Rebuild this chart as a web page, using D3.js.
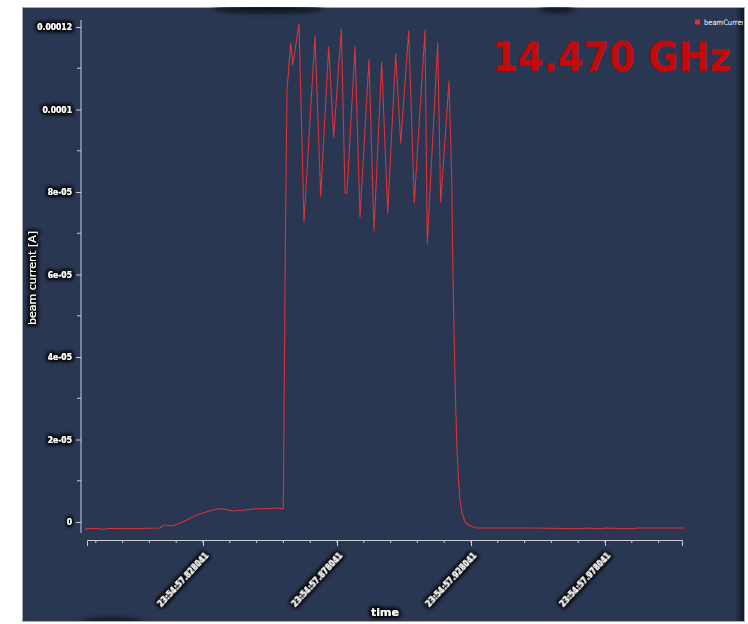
<!DOCTYPE html>
<html>
<head>
<meta charset="utf-8">
<script src="https://cdn.jsdelivr.net/npm/d3@7"></script>
<style>
  html, body { margin: 0; padding: 0; background: #ffffff; }
  svg { display: block; }
</style>
</head>
<body>
<svg id="chart" width="748" height="624"></svg>
<script>
// Beam current trace, time in seconds after 23:54:57
const timeSec = [
  0.78401, 0.78711, 0.79084, 0.79334, 0.79830, 0.80703, 0.81200, 0.81323,
  0.81472, 0.81636, 0.81883, 0.82196, 0.82569, 0.82942, 0.83375, 0.83562,
  0.83935, 0.84308, 0.84744, 0.85181, 0.85614, 0.85778, 0.85800, 0.85882,
  0.85938, 0.86077, 0.86151, 0.86386, 0.86573, 0.86983, 0.87196, 0.87494,
  0.87681, 0.87965, 0.88103, 0.88177, 0.88476, 0.88662, 0.88998, 0.89185,
  0.89472, 0.89696, 0.89994, 0.90181, 0.90479, 0.90688, 0.91088, 0.91173,
  0.91562, 0.91673, 0.91983, 0.92084, 0.92121, 0.92170, 0.92226, 0.92282,
  0.92338, 0.92394, 0.92468, 0.92580, 0.92767, 0.93028, 0.93886, 0.95129,
  0.96871, 0.97121, 0.97617, 0.97867, 0.98737, 0.99110, 1.00789
];
const beamCurrent = [
  -1.70e-6, -1.53e-6, -1.77e-6, -1.53e-6, -1.62e-6, -1.53e-6, -1.45e-6, -0.80e-6,
  -0.80e-6, -0.97e-6, -0.41e-6, 0.48e-6, 1.70e-6, 2.50e-6, 3.22e-6, 3.15e-6,
  2.67e-6, 2.84e-6, 3.22e-6, 3.22e-6, 3.39e-6, 3.22e-6, 3.27e-6, 7.08e-5,
  1.047e-4, 1.161e-4, 1.108e-4, 1.207e-4, 7.28e-5, 1.178e-4, 7.90e-5, 1.152e-4,
  9.34e-5, 1.195e-4, 7.98e-5, 7.98e-5, 1.152e-4, 7.39e-5, 1.122e-4, 7.06e-5,
  1.115e-4, 7.50e-5, 1.135e-4, 9.19e-5, 1.191e-4, 7.74e-5, 1.193e-4, 6.76e-5,
  1.161e-4, 7.74e-5, 1.069e-4, 8.37e-5, 6.43e-5, 4.65e-5, 2.96e-5, 1.75e-5,
  1.02e-5, 5.3e-6, 2.2e-6, 0, -0.97e-6, -1.45e-6, -1.45e-6, -1.45e-6,
  -1.62e-6, -1.45e-6, -1.62e-6, -1.45e-6, -1.62e-6, -1.45e-6, -1.45e-6
];

// Axis extents and ticks
const timeDomain = [0.784758, 1.006770];
const currentDomain = [-2.667e-6, 1.217e-4];
const timeMajorTicks = [0.828041, 0.878041, 0.928041, 0.978041];
const timeTickLabels = ["23:54:57.828041", "23:54:57.878041", "23:54:57.928041", "23:54:57.978041"];
const timeMinorStep = 0.01;
const currentMajorTicks = [0, 2e-5, 4e-5, 6e-5, 8e-5, 1e-4, 1.2e-4];
const currentTickLabels = ["0", "2e-05", "4e-05", "6e-05", "8e-05", "0.0001", "0.00012"];
const currentMinorTicks = [1e-5, 3e-5, 5e-5, 7e-5, 9e-5, 1.1e-4];

const seriesName = "beamCurrent";
const frequencyLabel = "14.470 GHz";

const svg = d3.select("#chart");
const defs = svg.append("defs");

// soft black halo behind light text
const glow = defs.append("filter").attr("id", "glow")
  .attr("x", "-30%").attr("y", "-60%").attr("width", "160%").attr("height", "220%");
glow.append("feMorphology").attr("in", "SourceAlpha").attr("operator", "dilate").attr("radius", 1.4).attr("result", "d");
glow.append("feGaussianBlur").attr("in", "d").attr("stdDeviation", 2.2).attr("result", "b");
glow.append("feFlood").attr("flood-color", "#000").attr("flood-opacity", 1);
glow.append("feComposite").attr("in2", "b").attr("operator", "in").attr("result", "s");
const gm = glow.append("feMerge");
gm.append("feMergeNode").attr("in", "s");
gm.append("feMergeNode").attr("in", "s");
gm.append("feMergeNode").attr("in", "SourceGraphic");

const blur = defs.append("filter").attr("id", "blur")
  .attr("x", "-50%").attr("y", "-300%").attr("width", "200%").attr("height", "700%");
blur.append("feGaussianBlur").attr("stdDeviation", 3);

const edge = defs.append("linearGradient").attr("id", "edge");
edge.append("stop").attr("offset", "0").attr("stop-color", "#0c1220").attr("stop-opacity", 0);
edge.append("stop").attr("offset", "1").attr("stop-color", "#0c1220").attr("stop-opacity", 0.9);

defs.append("clipPath").attr("id", "panelClip")
  .append("rect").attr("x", 22).attr("y", 7).attr("width", 721).attr("height", 614);

// panel
svg.append("rect").attr("x", 22.5).attr("y", 7.5).attr("width", 722).attr("height", 614)
  .attr("fill", "#2a3752").attr("stroke", "#a4a9b2").attr("stroke-width", 1);
svg.append("rect").attr("x", 735).attr("y", 8).attr("width", 9).attr("height", 613)
  .attr("fill", "url(#edge)");
const shade = svg.append("g").attr("clip-path", "url(#panelClip)").attr("filter", "url(#blur)");
shade.append("ellipse").attr("cx", 268).attr("cy", 7).attr("rx", 55).attr("ry", 5).attr("fill", "#05080f");
shade.append("ellipse").attr("cx", 557).attr("cy", 8).attr("rx", 18).attr("ry", 3).attr("fill", "#05080f");
shade.append("ellipse").attr("cx", 112).attr("cy", 623).attr("rx", 30).attr("ry", 4).attr("fill", "#05080f");

const x = d3.scaleLinear().domain(timeDomain).range([87, 682]);
const y = d3.scaleLinear().domain(currentDomain).range([533, 20]);

const axisColor = "#c9cdd5";
const tickFont = "'DejaVu Sans Condensed', 'DejaVu Sans', sans-serif";

// y axis
const yAxisG = svg.append("g").attr("transform", "translate(81,0)");
yAxisG.call(d3.axisLeft(y).tickValues(currentMajorTicks).tickSize(5).tickPadding(4)
  .tickFormat((d, i) => currentTickLabels[i]));
yAxisG.selectAll(".domain").attr("d", `M0,${y.range()[0]}V${y.range()[1]}`);
yAxisG.selectAll("line, path").attr("stroke", axisColor);
yAxisG.selectAll("text").attr("fill", "#ffffff").attr("font-family", tickFont)
  .attr("font-weight", "bold").attr("font-size", 8.5).attr("filter", "url(#glow)");
yAxisG.append("g").selectAll("line").data(currentMinorTicks).join("line")
  .attr("x1", -4).attr("x2", 0).attr("y1", d => y(d)).attr("y2", d => y(d))
  .attr("stroke", axisColor);

// x axis
const minorTimes = d3.range(timeMajorTicks[0] - 4 * timeMinorStep, timeDomain[1], timeMinorStep)
  .filter(t => t >= timeDomain[0]);
const xAxisG = svg.append("g").attr("transform", "translate(0,540)");
xAxisG.call(d3.axisBottom(x).tickValues(timeMajorTicks).tickSize(6).tickFormat(""));
xAxisG.selectAll("line, path").attr("stroke", axisColor);
xAxisG.append("g").selectAll("line").data(minorTimes).join("line")
  .attr("x1", d => x(d)).attr("x2", d => x(d)).attr("y1", 0).attr("y2", 3)
  .attr("stroke", axisColor);
xAxisG.append("g").selectAll("text").data(timeMajorTicks).join("text")
  .attr("transform", d => `translate(${x(d) + 4},${14}) rotate(-47)`)
  .attr("text-anchor", "end").attr("dy", "0.35em")
  .attr("fill", "#ffffff").attr("font-family", tickFont).attr("font-weight", "bold")
  .attr("font-size", 8.2).attr("filter", "url(#glow)")
  .text((d, i) => timeTickLabels[i]);

// axis titles
svg.append("text").attr("x", 385).attr("y", 616).attr("text-anchor", "middle")
  .attr("fill", "#ffffff").attr("font-family", "'DejaVu Sans', sans-serif")
  .attr("font-weight", "bold").attr("font-size", 11).attr("filter", "url(#glow)")
  .text("time");
svg.append("text").attr("transform", "translate(36,278) rotate(-90)").attr("text-anchor", "middle")
  .attr("fill", "#ffffff").attr("font-family", "'DejaVu Sans', sans-serif")
  .attr("font-size", 11).attr("filter", "url(#glow)")
  .text("beam current [A]");

// trace
const points = timeSec.map((t, i) => [t, beamCurrent[i]]);
svg.append("path").datum(points)
  .attr("d", d3.line().x(d => x(d[0])).y(d => y(d[1])))
  .attr("fill", "none").attr("stroke", "#d9333b").attr("stroke-width", 1.1)
  .attr("stroke-linejoin", "round");

// legend
const legend = svg.append("g").attr("clip-path", "url(#panelClip)");
legend.append("rect").attr("x", 695).attr("y", 19.5).attr("width", 5).attr("height", 5).attr("fill", "#ee2a2a");
legend.append("text").attr("x", 704).attr("y", 25).attr("fill", "#ffffff")
  .attr("font-family", tickFont).attr("font-size", 7.5).text(seriesName);

// frequency annotation (horizontally condensed bold face)
svg.append("text").attr("transform", "translate(492,70.5) scale(0.905,1)")
  .attr("fill", "#c20a0a").attr("font-family", "'DejaVu Sans', sans-serif")
  .attr("font-weight", "bold").attr("font-size", 41)
  .text(frequencyLabel);
</script>
</body>
</html>
